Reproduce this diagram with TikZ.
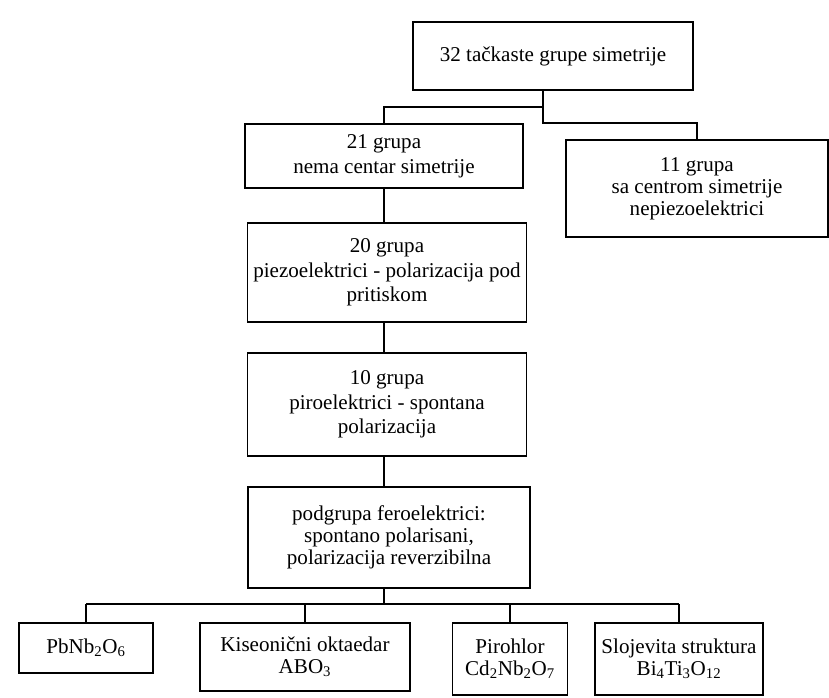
\documentclass[tikz,border=0pt]{standalone}
\usepackage{fontspec}
\setmainfont{Liberation Serif}
\usetikzlibrary{positioning, calc}

\tikzset{
  grpbox/.style 2 args={draw, line width=1.3pt, align=center, inner sep=0pt,
    minimum width=#1*0.75pt, minimum height=#2*0.75pt,
    font=\fontsize{15.8}{18.5}\selectfont},
  tight/.style={font=\fontsize{15.8}{16.5}\selectfont},
  link/.style={line width=1.3pt},
}

\begin{document}
\begin{tikzpicture}[x=0.75pt, y=-0.75pt]
  \useasboundingbox[fill=white] (0,0) rectangle (829,698);

  % main chain
  \node[grpbox={280}{68}] (tacke) at (553,56) {32 tačkaste grupe simetrije};
  \node[grpbox={278}{64}] (g21) at (384,156) {21 grupa\\nema centar simetrije};
  \node[grpbox={262}{97}, tight] (g11) at (697,188.5)
        {11 grupa\\sa centrom simetrije\\nepiezoelektrici};
  \node[grpbox={279}{99}] (g20) at (387,272.5)
        {20 grupa\\piezoelektrici - polarizacija pod\\pritiskom};
  \node[grpbox={279}{103}] (g10) at (387,404.5)
        {10 grupa\\piroelektrici - spontana\\polarizacija};
  \node[grpbox={282}{101}, tight] (fero) at (389,537.5)
        {podgrupa feroelektrici:\\spontano polarisani,\\polarizacija reverzibilna};

  % structures
  \node[grpbox={134}{50}] (pbnb) at (86,648) {PbNb\textsubscript{2}O\textsubscript{6}};
  \node[grpbox={210}{68}, tight] (kis) at (305,657) {Kiseonični oktaedar\\ABO\textsubscript{3}};
  \node[grpbox={115}{72}, tight] (piro) at (510,659)
        {Pirohlor\\Cd\textsubscript{2}Nb\textsubscript{2}O\textsubscript{7}};
  \node[grpbox={168}{72}, tight] (sloj) at (679,659)
        {Slojevita struktura\\Bi\textsubscript{4}Ti\textsubscript{3}O\textsubscript{12}};

  % connectors
  \coordinate (splitL) at (543,107);
  \coordinate (splitR) at (543,123);
  \coordinate (bus) at (384,604);
  \draw[link] (tacke.south -| splitL) -- (splitR) -| (g11.north);
  \draw[link] (splitL) -| (g21.north);
  \draw[link] (g21.south) -- (g21.south |- g20.north);
  \draw[link] (g21.south |- g20.south) -- (g21.south |- g10.north);
  \draw[link] (g21.south |- g10.south) -- (g21.south |- fero.north);
  \draw[link] (bus |- fero.south) -- (bus);
  \draw[link] (bus -| pbnb.north) -- (bus -| sloj.north);
  \foreach \s in {pbnb, kis, piro, sloj}
    \draw[link] (bus -| \s.north) -- (\s.north);
\end{tikzpicture}
\end{document}
